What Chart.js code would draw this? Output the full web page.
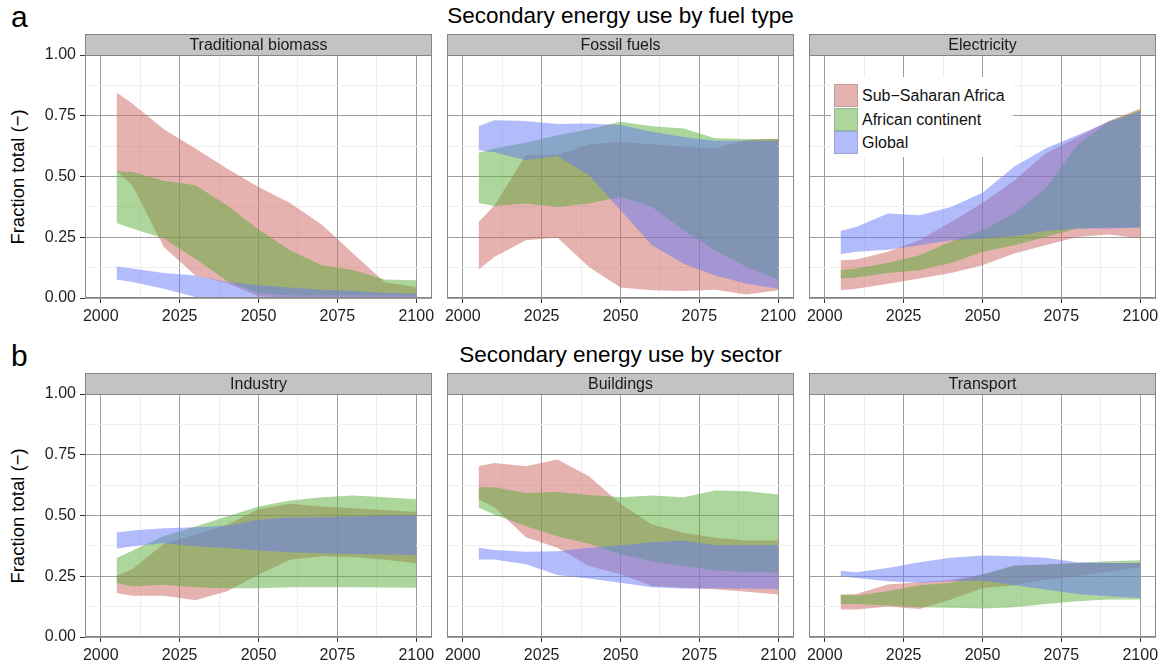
<!DOCTYPE html>
<html>
<head>
<meta charset="utf-8">
<script src="https://cdn.jsdelivr.net/npm/chart.js@4.4.1/dist/chart.umd.min.js"></script>
<style>
  html, body { margin: 0; padding: 0; background: #fff; }
  body { width: 1166px; height: 667px; position: relative; overflow: hidden;
         font-family: "Liberation Sans", Arial, Helvetica, sans-serif; color: #000; }
  .panel { position: absolute; }
  .tag { position: absolute; font-size: 30px; line-height: 1; }
  .title { position: absolute; font-size: 22.5px; line-height: 1; white-space: nowrap; transform: translateX(-50%); }
  .ylab { position: absolute; font-size: 18.5px; line-height: 1; white-space: nowrap; transform: translate(-50%, -50%) rotate(-90deg); }
  .legend { position: absolute; left: 831px; top: 77px; width: 182px; height: 80px; background: #fff; }
  .legend .key { position: absolute; left: 3px; width: 24px; height: 23px; box-sizing: border-box; border: 1px solid rgba(120,120,120,.35); }
  .legend .txt { position: absolute; left: 31px; font-size: 16px; line-height: 23px; white-space: nowrap; color: #111; }
</style>
</head>
<body>

<script>
/* ---------------- Data ---------------- */
const years = [2005, 2010, 2020, 2030, 2040, 2050, 2060, 2070, 2080, 2090, 2100];
const seriesNames = ['Sub\u2212Saharan Africa', 'African continent', 'Global'];
const panelTitles = ['Traditional biomass', 'Fossil fuels', 'Electricity', 'Industry', 'Buildings', 'Transport'];
const rowTitles = ['Secondary energy use by fuel type', 'Secondary energy use by sector'];
const rowTags = ['a', 'b'];
const xMajor = [2000, 2025, 2050, 2075, 2100];
const xMinor = [2012.5, 2037.5, 2062.5, 2087.5];
const yMajor = [0, 0.25, 0.5, 0.75, 1];
const yMinor = [0.125, 0.375, 0.625, 0.875];

// Traditional biomass
const biomassSsaLo = [0.522, 0.464, 0.21, 0.093, 0.062, 0.007, 0, 0, 0, 0, 0];
const biomassSsaHi = [0.846, 0.80, 0.694, 0.615, 0.533, 0.457, 0.391, 0.302, 0.183, 0.065, 0.045];
const biomassAfrLo = [0.309, 0.286, 0.245, 0.162, 0.07, 0.02, 0.01, 0.01, 0.01, 0.01, 0.01];
const biomassAfrHi = [0.522, 0.519, 0.482, 0.464, 0.382, 0.282, 0.196, 0.135, 0.115, 0.076, 0.073];
const biomassGloLo = [0.076, 0.066, 0.038, 0.004, 0, 0, 0, 0, 0, 0, 0];
const biomassGloHi = [0.130, 0.121, 0.103, 0.093, 0.066, 0.052, 0.043, 0.034, 0.029, 0.022, 0.018];

// Fossil fuels
const fossilSsaLo = [0.117, 0.169, 0.238, 0.249, 0.128, 0.043, 0.032, 0.029, 0.034, 0.014, 0.032];
const fossilSsaHi = [0.313, 0.38, 0.588, 0.588, 0.633, 0.643, 0.633, 0.622, 0.615, 0.650, 0.655];
const fossilAfrLo = [0.391, 0.379, 0.389, 0.375, 0.389, 0.416, 0.375, 0.279, 0.196, 0.128, 0.076];
const fossilAfrHi = [0.598, 0.615, 0.639, 0.67, 0.694, 0.725, 0.707, 0.698, 0.657, 0.654, 0.654];
const fossilGloLo = [0.608, 0.60, 0.567, 0.584, 0.505, 0.361, 0.217, 0.141, 0.093, 0.059, 0.038];
const fossilGloHi = [0.707, 0.731, 0.728, 0.716, 0.718, 0.712, 0.684, 0.663, 0.647, 0.647, 0.647];

// Electricity
const elecSsaLo = [0.032, 0.038, 0.059, 0.08, 0.103, 0.135, 0.183, 0.217, 0.251, 0.261, 0.245];
const elecSsaHi = [0.155, 0.158, 0.19, 0.238, 0.313, 0.391, 0.482, 0.595, 0.661, 0.728, 0.78];
const elecAfrLo = [0.08, 0.084, 0.103, 0.114, 0.144, 0.19, 0.217, 0.251, 0.286, 0.29, 0.29];
const elecAfrHi = [0.114, 0.121, 0.144, 0.176, 0.232, 0.279, 0.348, 0.451, 0.629, 0.725, 0.773];
const elecGloLo = [0.18, 0.19, 0.199, 0.217, 0.238, 0.245, 0.254, 0.276, 0.286, 0.286, 0.29];
const elecGloHi = [0.276, 0.293, 0.348, 0.341, 0.375, 0.433, 0.54, 0.615, 0.67, 0.725, 0.766];

// Industry
const indSsaLo = [0.181, 0.170, 0.170, 0.151, 0.188, 0.256, 0.318, 0.332, 0.329, 0.318, 0.304];
const indSsaHi = [0.252, 0.279, 0.384, 0.423, 0.462, 0.526, 0.548, 0.537, 0.530, 0.523, 0.514];
const indAfrLo = [0.222, 0.208, 0.215, 0.205, 0.201, 0.201, 0.205, 0.205, 0.205, 0.204, 0.203];
const indAfrHi = [0.325, 0.355, 0.416, 0.455, 0.496, 0.537, 0.562, 0.575, 0.582, 0.575, 0.567];
const indGloLo = [0.363, 0.373, 0.386, 0.373, 0.366, 0.356, 0.349, 0.345, 0.342, 0.340, 0.337];
const indGloHi = [0.430, 0.438, 0.448, 0.452, 0.458, 0.482, 0.492, 0.493, 0.496, 0.5, 0.5];

// Buildings
const bldSsaLo = [0.566, 0.534, 0.411, 0.367, 0.292, 0.258, 0.21, 0.203, 0.196, 0.186, 0.175];
const bldSsaHi = [0.703, 0.716, 0.703, 0.730, 0.662, 0.548, 0.463, 0.429, 0.408, 0.397, 0.397];
const bldAfrLo = [0.532, 0.504, 0.456, 0.415, 0.384, 0.340, 0.312, 0.292, 0.274, 0.268, 0.264];
const bldAfrHi = [0.616, 0.616, 0.593, 0.597, 0.584, 0.575, 0.582, 0.575, 0.603, 0.6, 0.586];
const bldGloLo = [0.319, 0.319, 0.299, 0.255, 0.241, 0.223, 0.205, 0.2, 0.2, 0.2, 0.196];
const bldGloHi = [0.367, 0.358, 0.351, 0.353, 0.367, 0.378, 0.39, 0.397, 0.378, 0.378, 0.378];

// Transport
const trnSsaLo = [0.113, 0.113, 0.126, 0.115, 0.154, 0.202, 0.213, 0.236, 0.25, 0.27, 0.287];
const trnSsaHi = [0.174, 0.177, 0.216, 0.225, 0.236, 0.257, 0.291, 0.298, 0.305, 0.305, 0.305];
const trnAfrLo = [0.136, 0.136, 0.130, 0.122, 0.12, 0.117, 0.122, 0.136, 0.147, 0.154, 0.154];
const trnAfrHi = [0.174, 0.171, 0.188, 0.213, 0.223, 0.257, 0.295, 0.298, 0.305, 0.312, 0.316];
const trnGloLo = [0.25, 0.243, 0.229, 0.223, 0.229, 0.232, 0.213, 0.195, 0.177, 0.168, 0.161];
const trnGloHi = [0.273, 0.266, 0.284, 0.308, 0.326, 0.335, 0.332, 0.326, 0.308, 0.305, 0.305];

/* ---------------- Layout / style ---------------- */
const fills = ['rgba(203,101,95,0.5)', 'rgba(89,173,55,0.5)', 'rgba(101,121,245,0.5)'];
const colLeft = [85, 447, 809];
const rowTop = [55, 394];
const PANEL_W = 347, PANEL_H = 243, STRIP_H = 21;
const Y_W = [60, 10, 10], X_H = 32, PAD_R = 12;
const MAJOR_C = '#9e9e9e', MINOR_C = '#eeeeee', TICK_C = '#333';
const FONT = '"Liberation Sans", Arial, Helvetica, sans-serif';

const panelData = [
  [biomassSsaLo, biomassSsaHi, biomassAfrLo, biomassAfrHi, biomassGloLo, biomassGloHi],
  [fossilSsaLo, fossilSsaHi, fossilAfrLo, fossilAfrHi, fossilGloLo, fossilGloHi],
  [elecSsaLo, elecSsaHi, elecAfrLo, elecAfrHi, elecGloLo, elecGloHi],
  [indSsaLo, indSsaHi, indAfrLo, indAfrHi, indGloLo, indGloHi],
  [bldSsaLo, bldSsaHi, bldAfrLo, bldAfrHi, bldGloLo, bldGloHi],
  [trnSsaLo, trnSsaHi, trnAfrLo, trnAfrHi, trnGloLo, trnGloHi]
];

Chart.defaults.font.family = FONT;

const pts = arr => years.map((x, i) => ({ x, y: arr[i] }));

function ribbon(lo, hi, color, order) {
  const base = { borderColor: 'transparent', borderWidth: 0, pointRadius: 0, pointHoverRadius: 0, tension: 0, order };
  return [
    { ...base, data: pts(lo), fill: false },
    { ...base, data: pts(hi), fill: '-1', backgroundColor: color }
  ];
}

/* panel border + grey strip header */
const framePlugin = {
  id: 'frame',
  afterDraw(chart, args, opts) {
    const { ctx, chartArea: a } = chart;
    const w = a.right - a.left;
    ctx.save();
    ctx.fillStyle = '#c3c3c3';
    ctx.fillRect(a.left, a.top - STRIP_H, w, STRIP_H);
    ctx.strokeStyle = '#858585';
    ctx.lineWidth = 1;
    ctx.strokeRect(a.left + 0.5, a.top - STRIP_H + 0.5, w - 1, STRIP_H);
    ctx.strokeRect(a.left + 0.5, a.top + 0.5, w - 1, a.bottom - a.top - 1);
    ctx.fillStyle = '#1a1a1a';
    ctx.font = '16px ' + FONT;
    ctx.textAlign = 'center';
    ctx.textBaseline = 'middle';
    ctx.fillText(opts.title, a.left + w / 2, a.top - STRIP_H / 2 + 1);
    ctx.restore();
  }
};

function makePanel(idx) {
  const col = idx % 3, row = Math.floor(idx / 3);
  const div = document.createElement('div');
  div.className = 'panel';
  div.style.left = (colLeft[col] - Y_W[col]) + 'px';
  div.style.top = (rowTop[row] - STRIP_H) + 'px';
  div.style.width = (Y_W[col] + PANEL_W + PAD_R) + 'px';
  div.style.height = (STRIP_H + PANEL_H + X_H) + 'px';
  const canvas = document.createElement('canvas');
  div.appendChild(canvas);
  document.body.appendChild(div);

  const d = panelData[idx];
  const datasets = [
    ...ribbon(d[0], d[1], fills[0], 3),
    ...ribbon(d[2], d[3], fills[1], 2),
    ...ribbon(d[4], d[5], fills[2], 1)
  ];

  new Chart(canvas, {
    type: 'line',
    data: { datasets },
    plugins: [framePlugin],
    options: {
      responsive: true,
      maintainAspectRatio: false,
      animation: false,
      events: [],
      layout: { padding: { top: STRIP_H, right: PAD_R, left: 0, bottom: 0 } },
      plugins: { legend: { display: false }, tooltip: { enabled: false }, frame: { title: panelTitles[idx] } },
      scales: {
        x: {
          type: 'linear', min: 1995, max: 2105,
          afterBuildTicks: s => { s.ticks = [...xMajor, ...xMinor].sort((p, q) => p - q).map(v => ({ value: v })); },
          afterFit: s => { s.height = X_H; },
          border: { display: false },
          grid: {
            color: c => xMinor.includes(c.tick.value) ? MINOR_C : MAJOR_C,
            tickColor: c => xMinor.includes(c.tick.value) ? 'transparent' : TICK_C,
            tickLength: 5, lineWidth: 1
          },
          ticks: {
            autoSkip: false, maxRotation: 0, padding: 4, color: '#1e1e1e', font: { size: 16 },
            callback: v => xMajor.includes(v) ? String(v) : ''
          }
        },
        y: {
          min: 0, max: 1,
          afterBuildTicks: s => { s.ticks = [...yMajor, ...yMinor].sort((p, q) => p - q).map(v => ({ value: v })); },
          afterFit: s => { s.width = Y_W[col]; },
          border: { display: false },
          grid: {
            color: c => yMinor.includes(c.tick.value) ? MINOR_C : MAJOR_C,
            tickColor: c => yMinor.includes(c.tick.value) ? 'transparent' : TICK_C,
            drawTicks: col === 0, tickLength: 5, lineWidth: 1
          },
          ticks: {
            display: col === 0, autoSkip: false, padding: 4, color: '#1e1e1e', font: { size: 16 },
            callback: v => yMajor.includes(v) ? v.toFixed(2) : ''
          }
        }
      }
    }
  });
}

/* ---------------- Text ---------------- */
function addText(cls, text, left, top) {
  const el = document.createElement('div');
  el.className = cls;
  el.textContent = text;
  el.style.left = left + 'px';
  el.style.top = top + 'px';
  document.body.appendChild(el);
}

const ROW_SHIFT = rowTop[1] - rowTop[0];
for (let r = 0; r < 2; r++) {
  addText('tag', rowTags[r], 11, 2 + r * ROW_SHIFT);
  addText('title', rowTitles[r], 620.5, 5 + r * ROW_SHIFT);
  addText('ylab', 'Fraction total (\u2212)', 18, rowTop[r] + PANEL_H / 2);
}

for (let i = 0; i < 6; i++) makePanel(i);

/* legend inside the Electricity panel */
const legend = document.createElement('div');
legend.className = 'legend';
seriesNames.forEach((name, i) => {
  const key = document.createElement('div');
  key.className = 'key';
  key.style.top = (7 + i * 23.5) + 'px';
  key.style.background = fills[i];
  legend.appendChild(key);
  const txt = document.createElement('div');
  txt.className = 'txt';
  txt.style.top = (7 + i * 23.5) + 'px';
  txt.textContent = name;
  legend.appendChild(txt);
});
document.body.appendChild(legend);
</script>
</body>
</html>
